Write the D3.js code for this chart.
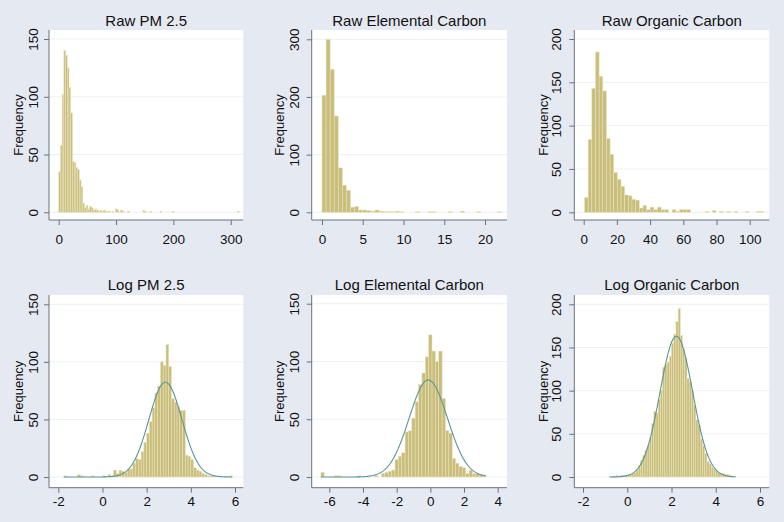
<!DOCTYPE html>
<html><head><meta charset="utf-8">
<script src="https://cdn.jsdelivr.net/npm/d3@7"></script>
<style>
html,body{margin:0;padding:0;background:#E5E9F2;}
svg{display:block;font-family:"Liberation Sans",Arial,Helvetica,sans-serif;}
</style>
</head><body>
<svg id="chart" width="784" height="522"></svg>
<script>
// ---------------- DATA ----------------
const titles = ["Raw PM 2.5", "Raw Elemental Carbon", "Raw Organic Carbon",
                "Log PM 2.5", "Log Elemental Carbon", "Log Organic Carbon"];
const yAxisTitle = "Frequency";

// histogram bin starts and widths
const binStart = [0, 0, 0.5, -1.75, -6.5, -0.8];
const binWidth = [3, 0.5, 2.2, 0.125, 0.2, 0.1];

// frequencies per bin
const pm25Raw = [35,58,102,140,136,125,108,86,44,43,
  39,37,28,22,8,4,6,3,5,4,
  2,3,2,1,2,1,2,1,1,1,
  0,1,0,3,2,0,2,1,0,0,
  1,0,0,0,0,0,0,0,0,2,
  1,0,0,1,0,0,0,0,0,1,
  0,0,0,0,0,0,1,0,0,0,
  0,0,0,0,0,0,0,0,0,0,
  0,0,0,0,0,0,0,0,0,0,
  0,0,0,0,0,0,0,0,0,0,
  0,0,0,0,1];
const ecRaw = [203,300,248,167,77,47,38,9,10,4,
  4,3,2,4,2,1,1,1,2,1,
  0,0,0,1,0,0,1,1,0,0,
  0,1,0,0,2,0,0,0,1,0,
  0,0,0,1];
const ocRaw = [17,84,143,185,157,140,85,67,46,38,
  30,20,19,15,14,5,8,3,6,3,
  6,3,3,0,3,1,3,3,3,0,
  0,0,0,1,0,2,0,1,0,1,
  0,1,0,0,1,0,0,1,1];
const pm25Log = [1,0,0,0,0,2,1,0,0,0,
  1,0,0,0,1,0,2,1,6,3,
  6,5,4,7,7,12,16,15,22,30,
  38,48,60,73,79,100,97,115,96,68,
  65,61,58,58,19,18,15,8,6,5,
  3,2,1,1,1,0,0,0,0,0,1];
const ecLog = [4,0,0,0,1,1,0,0,0,0,
  0,1,0,0,0,0,1,0,3,4,
  5,6,15,18,21,39,40,51,65,80,
  90,104,123,109,100,109,68,40,38,16,
  12,9,8,3,6,3,3,2,1];
const ocLog = [1,1,1,2,1,2,2,2,3,3,
  4,5,8,13,19,25,31,36,45,62,
  76,74,90,100,127,130,133,140,155,165,
  180,195,164,148,138,114,110,100,83,66,
  60,44,36,27,18,15,11,9,7,5,
  4,4,3,3,2,1,1];

// normal-density overlay (log panels only)
const normalMean = [null, null, null, 2.85, -0.12, 2.22];
const normalSd   = [null, null, null, 0.75, 1.14, 0.735];

// tick labels
const xTicks = [[0,100,200,300],[0,5,10,15,20],[0,20,40,60,80,100],
                [-2,0,2,4,6],[-6,-4,-2,0,2,4],[-2,0,2,4,6]];
const yTicks = [[0,50,100,150],[0,100,200,300],[0,50,100,150,200],
                [0,50,100,150],[0,50,100,150],[0,50,100,150,200]];

const series = [pm25Raw, ecRaw, ocRaw, pm25Log, ecLog, ocLog];

// ---------------- LAYOUT ----------------
const cols = [
  {left:49,    right:243.3, yLabelX:38.3,  freqX:22.5},
  {left:311.7, right:507,   yLabelX:299.3, freqX:283.5},
  {left:574.3, right:769.3, yLabelX:561.3, freqX:547.5}
];
const rows = [
  {top:30,  axisY:220,   titleY:25.5, xLabelY:244},
  {top:295, axisY:487.7, titleY:290,  xLabelY:506.5}
];
// calibration: [domain0, pixel0, domain1, pixel1]
const xCal = [[0,58.7,300,230.7],[0,322,20,485],[0,583.7,100,749.7],
              [-2,58.3,6,235],[-6,329.3,4,497.7],[-2,583,6,760]];
const yCal = [[0,212.3,150,39],[0,212.3,300,39.3],[0,212.3,200,39],
              [0,477,150,304.3],[0,477,150,303.7],[0,477,200,304.3]];

const style = {
  bg:"#E5E9F2", plot:"#FFFFFF", grid:"#EDF0F4", axis:"#6A727C",
  barFill:"#C9BE7C", barStroke:"#EAE4BE", curve:"#5B9598", text:"#111111"
};

const svg = d3.select("#chart");
svg.append("rect").attr("width",784).attr("height",522).attr("fill",style.bg);

series.forEach((counts, p) => {
  const c = cols[p % 3], r = rows[Math.floor(p / 3)];
  const xs = d3.scaleLinear().domain([xCal[p][0], xCal[p][2]]).range([xCal[p][1], xCal[p][3]]);
  const ys = d3.scaleLinear().domain([yCal[p][0], yCal[p][2]]).range([yCal[p][1], yCal[p][3]]);
  const g = svg.append("g");

  // plot region
  g.append("rect").attr("x", c.left).attr("y", r.top)
    .attr("width", c.right - c.left).attr("height", r.axisY - r.top)
    .attr("fill", style.plot);

  // gridlines
  g.selectAll("line.grid").data(yTicks[p]).join("line").attr("class","grid")
    .attr("x1", c.left).attr("x2", c.right)
    .attr("y1", d => ys(d)).attr("y2", d => ys(d))
    .attr("stroke", style.grid).attr("stroke-width", 1);

  // bars
  const s0 = binStart[p], w = binWidth[p];
  const bins = counts.map((v, i) => ({x0: s0 + i * w, x1: s0 + (i + 1) * w, v}))
                     .filter(b => b.v > 0);
  g.selectAll("rect.bar").data(bins).join("rect").attr("class","bar")
    .attr("x", b => xs(b.x0)).attr("width", b => xs(b.x1) - xs(b.x0))
    .attr("y", b => ys(b.v)).attr("height", b => ys(0) - ys(b.v))
    .attr("fill", style.barFill).attr("stroke", style.barStroke).attr("stroke-width", 0.5);

  // normal overlay
  if (normalMean[p] !== null) {
    const n = d3.sum(counts), mu = normalMean[p], sd = normalSd[p];
    const lo = s0, hi = s0 + counts.length * w;
    const pts = d3.range(0, 301).map(k => {
      const xv = lo + (hi - lo) * k / 300;
      const dens = Math.exp(-0.5 * ((xv - mu) / sd) ** 2) / (sd * Math.sqrt(2 * Math.PI));
      return [xv, n * w * dens];
    });
    g.append("path").datum(pts)
      .attr("d", d3.line().x(d => xs(d[0])).y(d => ys(d[1])))
      .attr("fill","none").attr("stroke", style.curve).attr("stroke-width", 1.1);
  }

  // x axis
  const xa = g.append("g").attr("transform", `translate(0,${r.axisY})`)
    .call(d3.axisBottom(xs).tickValues(xTicks[p]).tickSize(5).tickSizeOuter(0).tickFormat(d => String(d)));
  xa.select(".domain").remove();
  xa.selectAll(".tick line").attr("stroke", style.axis);
  xa.selectAll(".tick text").attr("y", r.xLabelY - r.axisY).attr("dy", null)
    .attr("fill", style.text).style("font-size","13.5px").style("font-family","'Liberation Sans',Arial,sans-serif");
  g.append("line").attr("x1", c.left).attr("x2", c.right)
    .attr("y1", r.axisY).attr("y2", r.axisY).attr("stroke", style.axis).attr("stroke-width", 1);

  // y axis
  const ya = g.append("g").attr("transform", `translate(${c.left},0)`)
    .call(d3.axisLeft(ys).tickValues(yTicks[p]).tickSize(5).tickSizeOuter(0).tickFormat(d => String(d)));
  ya.select(".domain").remove();
  ya.selectAll(".tick line").attr("stroke", style.axis);
  ya.selectAll(".tick text").attr("x", 0).attr("y", 0).attr("dy", null)
    .attr("transform", `translate(${c.yLabelX - c.left},0) rotate(-90)`)
    .attr("text-anchor","middle")
    .attr("fill", style.text).style("font-size","13.5px").style("font-family","'Liberation Sans',Arial,sans-serif");
  g.append("line").attr("x1", c.left).attr("x2", c.left)
    .attr("y1", r.top).attr("y2", r.axisY).attr("stroke", style.axis).attr("stroke-width", 1);

  // y axis title
  g.append("text")
    .attr("transform", `translate(${c.freqX},${(r.top + r.axisY) / 2}) rotate(-90)`)
    .attr("text-anchor","middle").attr("fill", style.text)
    .style("font-size","13px").text(yAxisTitle);

  // panel title
  g.append("text").attr("x", (c.left + c.right) / 2).attr("y", r.titleY)
    .attr("text-anchor","middle").attr("fill", style.text)
    .style("font-size","15px").text(titles[p]);
});
</script>
</body></html>
